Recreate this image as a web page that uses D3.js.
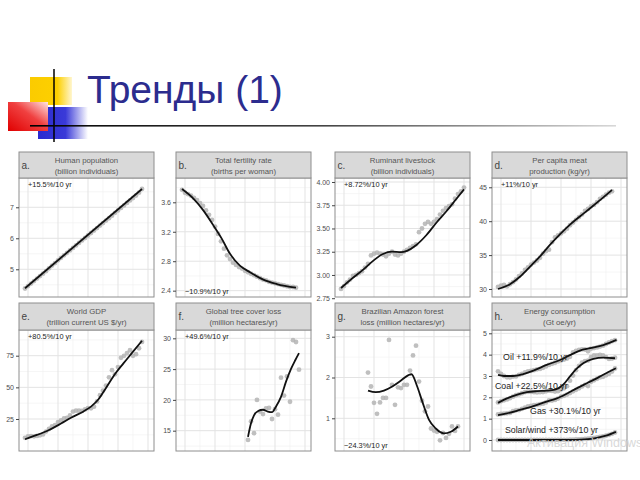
<!DOCTYPE html>
<html>
<head>
<meta charset="utf-8">
<script src="https://cdn.jsdelivr.net/npm/d3@7"></script>
<style>
  body { margin: 0; background: #fff; }
  svg { display: block; }
  text { font-family: "Liberation Sans", Arial, sans-serif; }
</style>
</head>
<body>
<svg id="chart" width="640" height="480"></svg>
<script>
// data
// =======================
var popYears = d3.range(1979, 2019);
var population = [4.38,4.46,4.54,4.62,4.70,4.78,4.86,4.94,5.03,5.12,5.20,5.29,5.37,5.45,5.53,5.61,5.69,5.77,5.85,5.93,
  6.01,6.09,6.17,6.25,6.33,6.41,6.49,6.57,6.65,6.73,6.82,6.90,6.98,7.06,7.14,7.22,7.30,7.38,7.47,7.59];
var populationTrend = [[1979,4.39],[2018,7.59]];

var fertYears = d3.range(1979, 2018);
var fertility = [3.77,3.73,3.71,3.69,3.66,3.63,3.59,3.55,3.49,3.43,3.36,3.27,3.17,3.07,2.97,2.88,2.83,2.78,2.75,2.72,
  2.70,2.67,2.65,2.63,2.61,2.59,2.57,2.55,2.54,2.52,2.51,2.50,2.49,2.48,2.47,2.46,2.45,2.45,2.44];
var fertilityTrend = [[1979,3.78],[1982.8,3.65],[1986.1,3.49],[1989.4,3.29],[1992.2,3.11],[1995,2.9],[1998.3,2.74],
  [2001.7,2.65],[2006.1,2.55],[2010.6,2.49],[2017,2.44]];

var stockYears = d3.range(1979, 2021);
var livestock = [2.85,2.88,2.92,2.95,2.99,3.00,3.02,3.04,3.08,3.12,3.21,3.23,3.24,3.23,3.22,3.20,3.23,3.25,3.22,3.21,
  3.23,3.25,3.27,3.29,3.31,3.33,3.46,3.50,3.55,3.57,3.55,3.57,3.60,3.65,3.69,3.72,3.74,3.76,3.82,3.87,3.90,3.94];
var livestockTrend = [[1979,2.86],[1983,2.97],[1986.5,3.06],[1990,3.16],[1993,3.225],[1996,3.25],[1999,3.245],[2001,3.26],
  [2004,3.32],[2007.5,3.43],[2011,3.57],[2014,3.68],[2017.5,3.82],[2020,3.92]];

var meatYears = d3.range(1979, 2018);
var meat = [30.3,30.5,30.6,30.4,30.7,31.0,31.4,31.9,32.3,32.8,33.2,33.6,33.9,34.2,34.6,35.2,35.6,35.8,36.9,37.6,
  37.9,38.2,38.5,38.9,39.4,39.8,40.2,40.6,41.0,41.5,41.8,42.2,42.4,42.8,43.3,43.6,43.9,44.2,44.4];
var meatTrend = [[1979,30.0],[1983,30.7],[1986.3,31.8],[1989.7,33.3],[1993,34.8],[1996.3,36.5],[1999.7,38.1],[2003,39.5],
  [2006.3,40.7],[2009.7,41.9],[2013,43.1],[2017,44.6]];

var gdpYears = d3.range(1979, 2019);
var gdp = [10.1,11.2,11.5,11.3,11.6,12.1,12.8,15.1,17.1,19.2,20.1,22.6,23.9,25.4,25.9,27.8,30.9,31.6,31.5,31.4,
  32.6,33.6,33.4,34.7,38.9,43.8,47.4,51.4,57.9,63.6,60.3,66.0,73.3,74.9,77.1,79.3,74.9,76.2,80.9,85.9];
var gdpTrend = [[1979,9.0],[1983,12.4],[1987,16.3],[1991,21.4],[1994.5,26.2],[1998.5,31.0],[2001,34.8],[2003.5,40.6],
  [2006,49.5],[2009,60.5],[2011.8,68.9],[2014.6,77.0],[2018,86.8]];

var treeYears = d3.range(2001, 2019);
var treeLoss = [13.5,16.5,14.6,20.0,18.1,17.7,18.6,18.7,16.9,18.5,17.6,23.6,20.7,23.8,19.7,29.7,29.4,24.9];
var treeTrend = [[2001,14.0],[2002,16.2],[2003,17.5],[2004.4,18.2],[2006,18.4],[2007.6,18.1],[2009,18.0],[2010.3,18.9],
  [2012,20.5],[2013.7,23.0],[2015.3,25.0],[2016.7,26.4],[2018,27.6]];

var amazonYears = d3.range(1988, 2019);
var amazonLoss = [2.12,1.78,1.38,1.11,1.39,1.50,1.50,2.92,1.82,1.33,1.76,1.74,1.82,1.82,2.17,2.54,2.78,1.90,1.43,1.17,
  1.29,0.75,0.70,0.67,0.46,0.64,0.52,0.62,0.80,0.69,0.80];
var amazonTrend = [[1988,1.68],[1990.6,1.64],[1993.3,1.68],[1996.1,1.78],[1998.9,1.92],[2001.5,2.06],[2002.5,2.08],
  [2004.4,1.78],[2006.1,1.41],[2008.3,0.97],[2010.6,0.75],[2013.3,0.63],[2015.6,0.67],[2018,0.80]];

var energyYears = d3.range(1979, 2019);
var oil = [3.22,3.10,3.00,2.94,2.93,2.97,2.98,3.05,3.10,3.17,3.22,3.24,3.27,3.31,3.33,3.38,3.45,3.52,3.57,3.62,
  3.68,3.73,3.77,3.82,3.90,4.10,4.18,4.22,4.25,4.24,4.16,4.28,4.31,4.34,4.38,4.42,4.50,4.57,4.63,4.68];
var coal = [1.76,1.82,1.86,1.90,1.96,2.03,2.10,2.14,2.19,2.24,2.26,2.26,2.24,2.23,2.24,2.25,2.28,2.31,2.30,2.27,
  2.29,2.37,2.42,2.52,2.78,3.02,3.27,3.47,3.63,3.70,3.72,3.88,3.96,3.97,3.99,3.97,3.88,3.80,3.82,3.86];
var gas = [1.20,1.22,1.24,1.25,1.27,1.35,1.39,1.40,1.46,1.52,1.57,1.60,1.63,1.65,1.68,1.70,1.76,1.85,1.85,1.88,
  1.94,2.03,2.07,2.13,2.20,2.28,2.35,2.42,2.51,2.58,2.53,2.73,2.80,2.87,2.93,2.96,3.03,3.10,3.21,3.35];
var solarWind = [0,0,0,0,0,0,0,0,0,0,0,0,0,0,0,0,0,0,0,0,
  0.01,0.01,0.01,0.01,0.02,0.02,0.03,0.03,0.04,0.05,0.06,0.08,0.10,0.12,0.15,0.17,0.20,0.24,0.29,0.35];
var oilTrend = [[1979,3.05],[1981,3.0],[1984,3.0],[1987.4,3.09],[1990.8,3.25],[1995.2,3.52],[1999.7,3.75],[2003,3.98],
  [2006.3,4.19],[2009.7,4.30],[2014.1,4.45],[2018.5,4.69]];
var coalTrend = [[1979,1.74],[1982,1.95],[1985.2,2.11],[1988.6,2.24],[1992,2.29],[1995.2,2.31],[1998,2.36],[2000.8,2.6],
  [2003,2.98],[2005.2,3.34],[2007.4,3.6],[2010.8,3.8],[2014.1,3.86],[2018,3.83]];
var gasTrend = [[1979,1.17],[1982,1.25],[1986.3,1.41],[1990.8,1.59],[1995.2,1.80],[1998.6,1.95],[2001.9,2.17],[2005.2,2.42],
  [2008.6,2.66],[2011.9,2.89],[2015.2,3.14],[2018.3,3.36]];
var solarTrend = [[1979,0],[2002,0],[2008,0.03],[2012,0.1],[2015,0.2],[2018.3,0.38]];

var xMajor = [1980, 1990, 2000, 2010, 2020];
var xMinor = [1985, 1995, 2005, 2015];


// panels (facets)
// ===============
var panels = [
  {tag: "a.", title: ["Human population", "(billion individuals)"], col: 0, row: 0,
   yDomain: [4.106, 7.945], ticks: [5, 6, 7], fmt: "d", note: "+15.5%/10 yr", notePos: "top",
   series: [{years: popYears, values: population, trend: populationTrend}]},
  {tag: "b.", title: ["Total fertility rate", "(births per woman)"], col: 1, row: 0,
   yDomain: [2.314, 3.93], ticks: [2.4, 2.8, 3.2, 3.6], fmt: ".1f", note: "\u221210.9%/10 yr", notePos: "bottom",
   series: [{years: fertYears, values: fertility, trend: fertilityTrend}]},
  {tag: "c.", title: ["Ruminant livestock", "(billion individuals)"], col: 2, row: 0,
   yDomain: [2.763, 4.043], ticks: [2.75, 3, 3.25, 3.5, 3.75, 4], fmt: ".2f", note: "+8.72%/10 yr", notePos: "top",
   series: [{years: stockYears, values: livestock, trend: livestockTrend}]},
  {tag: "d.", title: ["Per capita meat", "production (kg/yr)"], col: 3, row: 0,
   yDomain: [28.82, 46.37], ticks: [30, 35, 40, 45], fmt: "d", note: "+11%/10 yr", notePos: "top",
   series: [{years: meatYears, values: meat, trend: meatTrend}]},
  {tag: "e.", title: ["World GDP", "(trillion current US $/yr)"], col: 0, row: 1,
   yDomain: [-0.28, 95.3], ticks: [25, 50, 75], fmt: "d", note: "+80.5%/10 yr", notePos: "top",
   series: [{years: gdpYears, values: gdp, trend: gdpTrend}]},
  {tag: "f.", title: ["Global tree cover loss", "(million hectares/yr)"], col: 1, row: 1,
   yDomain: [11.7, 31.35], ticks: [15, 20, 25, 30], fmt: "d", note: "+49.6%/10 yr", notePos: "top",
   series: [{years: treeYears, values: treeLoss, trend: treeTrend}]},
  {tag: "g.", title: ["Brazilian Amazon forest", "loss (million hectares/yr)"], col: 2, row: 1,
   yDomain: [0.199, 3.164], ticks: [1, 2, 3], fmt: "d", note: "\u221224.3%/10 yr", notePos: "bottom",
   series: [{years: amazonYears, values: amazonLoss, trend: amazonTrend}]},
  {tag: "h.", title: ["Energy consumption", "(Gt oe/yr)"], col: 3, row: 1,
   yDomain: [-0.516, 5.155], ticks: [0, 1, 2, 3, 4, 5], fmt: "d", note: null,
   series: [
     {years: energyYears, values: oil, trend: oilTrend, label: "Oil +11.9%/10 yr", at: [1980.7, 3.75]},
     {years: energyYears, values: coal, trend: coalTrend, label: "Coal +22.5%/10 yr", at: [1978, 2.39]},
     {years: energyYears, values: gas, trend: gasTrend, label: "Gas +30.1%/10 yr", at: [1989.7, 1.22]},
     {years: energyYears, values: solarWind, trend: solarTrend, label: "Solar/wind +373%/10 yr", at: [1981.3, 0.33]}
   ]}
];

var cols = [19, 176, 335, 492], panelW = 135;
var rows = [{strip: 152, top: 178, bottom: 297}, {strip: 303, top: 330, bottom: 451}];
var xDomain = [1977, 2022];

var svg = d3.select("#chart");
var defs = svg.append("defs");


// slide header: logo + title
// ==========================
function grad(id, x2, y2, stops) {
  var gr = defs.append("linearGradient").attr("id", id)
    .attr("x1", 0).attr("y1", stops.y1 || 0).attr("x2", x2).attr("y2", y2);
  stops.list.forEach(function(s){
    gr.append("stop").attr("offset", s[0]).attr("stop-color", s[1]);
  });
}
grad("gYellow", 1, 0, {list: [[0, "#fbcb00"], [0.65, "#fdd000"], [1, "#fff6d0"]]});
grad("gRed", 1, 0, {y1: 1, list: [[0, "#e00000"], [0.55, "#f04040"], [1, "#ffe4e4"]]});
grad("gBlue", 1, 0, {list: [[0, "#2a2ad0"], [0.55, "#3a3ad8"], [1, "#ffffff"]]});
grad("gRule", 1, 0, {list: [[0, "#000"], [0.5, "#444"], [1, "#d8d8d8"]]});

var logo = svg.append("g");
logo.append("rect").attr("x", 30).attr("y", 77).attr("width", 42).attr("height", 28).attr("fill", "url(#gYellow)");
logo.append("rect").attr("x", 38).attr("y", 107).attr("width", 50).attr("height", 32).attr("fill", "url(#gBlue)");
logo.append("rect").attr("x", 8).attr("y", 102).attr("width", 40).attr("height", 29).attr("fill", "url(#gRed)");
logo.append("line").attr("x1", 54).attr("x2", 54).attr("y1", 69).attr("y2", 142)
  .attr("stroke", "#000").attr("stroke-width", 1.5);
logo.append("rect").attr("x", 30).attr("y", 125).attr("width", 586).attr("height", 1.6).attr("fill", "url(#gRule)");

svg.append("text").attr("x", 87).attr("y", 103)
  .attr("font-size", "39px").attr("fill", "#2c2c8e")
  .text("Тренды (1)");


// draw one facet
// ==============
function drawPanel(p, i) {
  var left = cols[p.col], r = rows[p.row];
  var x = d3.scaleLinear().domain(xDomain).range([left, left + panelW]);
  var y = d3.scaleLinear().domain(p.yDomain).range([r.bottom, r.top]);
  var g = svg.append("g").attr("class", "panel");

  var clipId = "clip" + i;
  defs.append("clipPath").attr("id", clipId).append("rect")
    .attr("x", left).attr("y", r.top).attr("width", panelW).attr("height", r.bottom - r.top);

  g.append("rect").attr("x", left).attr("y", r.top).attr("width", panelW).attr("height", r.bottom - r.top)
    .attr("fill", "#fff");

  // grid
  var step = p.ticks[1] - p.ticks[0];
  var yMinor = [p.ticks[0] - step / 2].concat(p.ticks.map(function(t){ return t + step / 2; }))
    .filter(function(v){ return v > p.yDomain[0] && v < p.yDomain[1]; });
  var grid = g.append("g").attr("clip-path", "url(#" + clipId + ")");
  grid.selectAll(".vmin").data(xMinor).enter().append("line")
    .attr("x1", x).attr("x2", x).attr("y1", r.top).attr("y2", r.bottom)
    .attr("stroke", "#f0f0f0").attr("stroke-width", 0.6);
  grid.selectAll(".hmin").data(yMinor).enter().append("line")
    .attr("x1", left).attr("x2", left + panelW).attr("y1", y).attr("y2", y)
    .attr("stroke", "#f0f0f0").attr("stroke-width", 0.6);
  grid.selectAll(".vmaj").data(xMajor).enter().append("line")
    .attr("x1", x).attr("x2", x).attr("y1", r.top).attr("y2", r.bottom)
    .attr("stroke", "#e3e3e3").attr("stroke-width", 1);
  grid.selectAll(".hmaj").data(p.ticks).enter().append("line")
    .attr("x1", left).attr("x2", left + panelW).attr("y1", y).attr("y2", y)
    .attr("stroke", "#e3e3e3").attr("stroke-width", 1);

  // points + smoothed trend
  var marks = g.append("g").attr("clip-path", "url(#" + clipId + ")");
  var trendLine = d3.line()
    .x(function(d){ return x(d[0]); })
    .y(function(d){ return y(d[1]); })
    .curve(d3.curveMonotoneX);
  p.series.forEach(function(s){
    marks.append("g").selectAll("circle")
      .data(d3.zip(s.years, s.values))
      .enter().append("circle")
      .attr("cx", function(d){ return x(d[0]); })
      .attr("cy", function(d){ return y(d[1]); })
      .attr("r", 2.4)
      .attr("fill", "#b4b4b4").attr("fill-opacity", 0.85);
  });
  p.series.forEach(function(s){
    marks.append("path").datum(s.trend)
      .attr("d", trendLine)
      .attr("fill", "none").attr("stroke", "#111").attr("stroke-width", 1.8);
  });

  // series labels (energy panel) and growth notes
  p.series.forEach(function(s){
    if (!s.label) return;
    g.append("text").attr("x", x(s.at[0])).attr("y", y(s.at[1]))
      .attr("font-size", "8.8px").attr("fill", "#222").text(s.label);
  });
  if (p.note) {
    g.append("text").attr("x", left + 9)
      .attr("y", p.notePos === "top" ? r.top + 8.5 : r.bottom - 3.5)
      .attr("font-size", "7.4px").attr("fill", "#222").text(p.note);
  }

  g.append("rect").attr("x", left).attr("y", r.top).attr("width", panelW).attr("height", r.bottom - r.top)
    .attr("fill", "none").attr("stroke", "#8e8e8e").attr("stroke-width", 1);

  // y axis
  var ax = g.append("g").attr("transform", "translate(" + left + ",0)")
    .call(d3.axisLeft(y).tickValues(p.ticks).tickSize(3).tickPadding(2).tickFormat(d3.format(p.fmt)));
  ax.select(".domain").remove();
  ax.selectAll("line").attr("stroke", "#444");
  ax.selectAll("text").attr("font-size", "7px").attr("fill", "#4d4d4d")
    .style("font-family", "'Liberation Sans', Arial, sans-serif");

  // strip
  g.append("rect").attr("x", left).attr("y", r.strip).attr("width", panelW).attr("height", r.top - r.strip)
    .attr("fill", "#d9d9d9").attr("stroke", "#8e8e8e").attr("stroke-width", 1);
  g.append("text").attr("x", left + 2.5).attr("y", (r.strip + r.top) / 2 + 3.5)
    .attr("font-size", "10px").attr("fill", "#444").text(p.tag);
  g.selectAll(".st").data(p.title).enter().append("text")
    .attr("x", left + panelW / 2)
    .attr("y", function(d, k){ return r.strip + 11 + k * 10.5; })
    .attr("text-anchor", "middle").attr("font-size", "7.8px").attr("fill", "#555")
    .text(function(d){ return d; });
}

panels.forEach(drawPanel);

// faint OS watermark in the corner of the slide
svg.append("text").attr("x", 527).attr("y", 447)
  .attr("font-size", "12.5px").attr("fill", "#d4d4d4").attr("fill-opacity", 0.9)
  .text("Активация Windows");
</script>
</body>
</html>
